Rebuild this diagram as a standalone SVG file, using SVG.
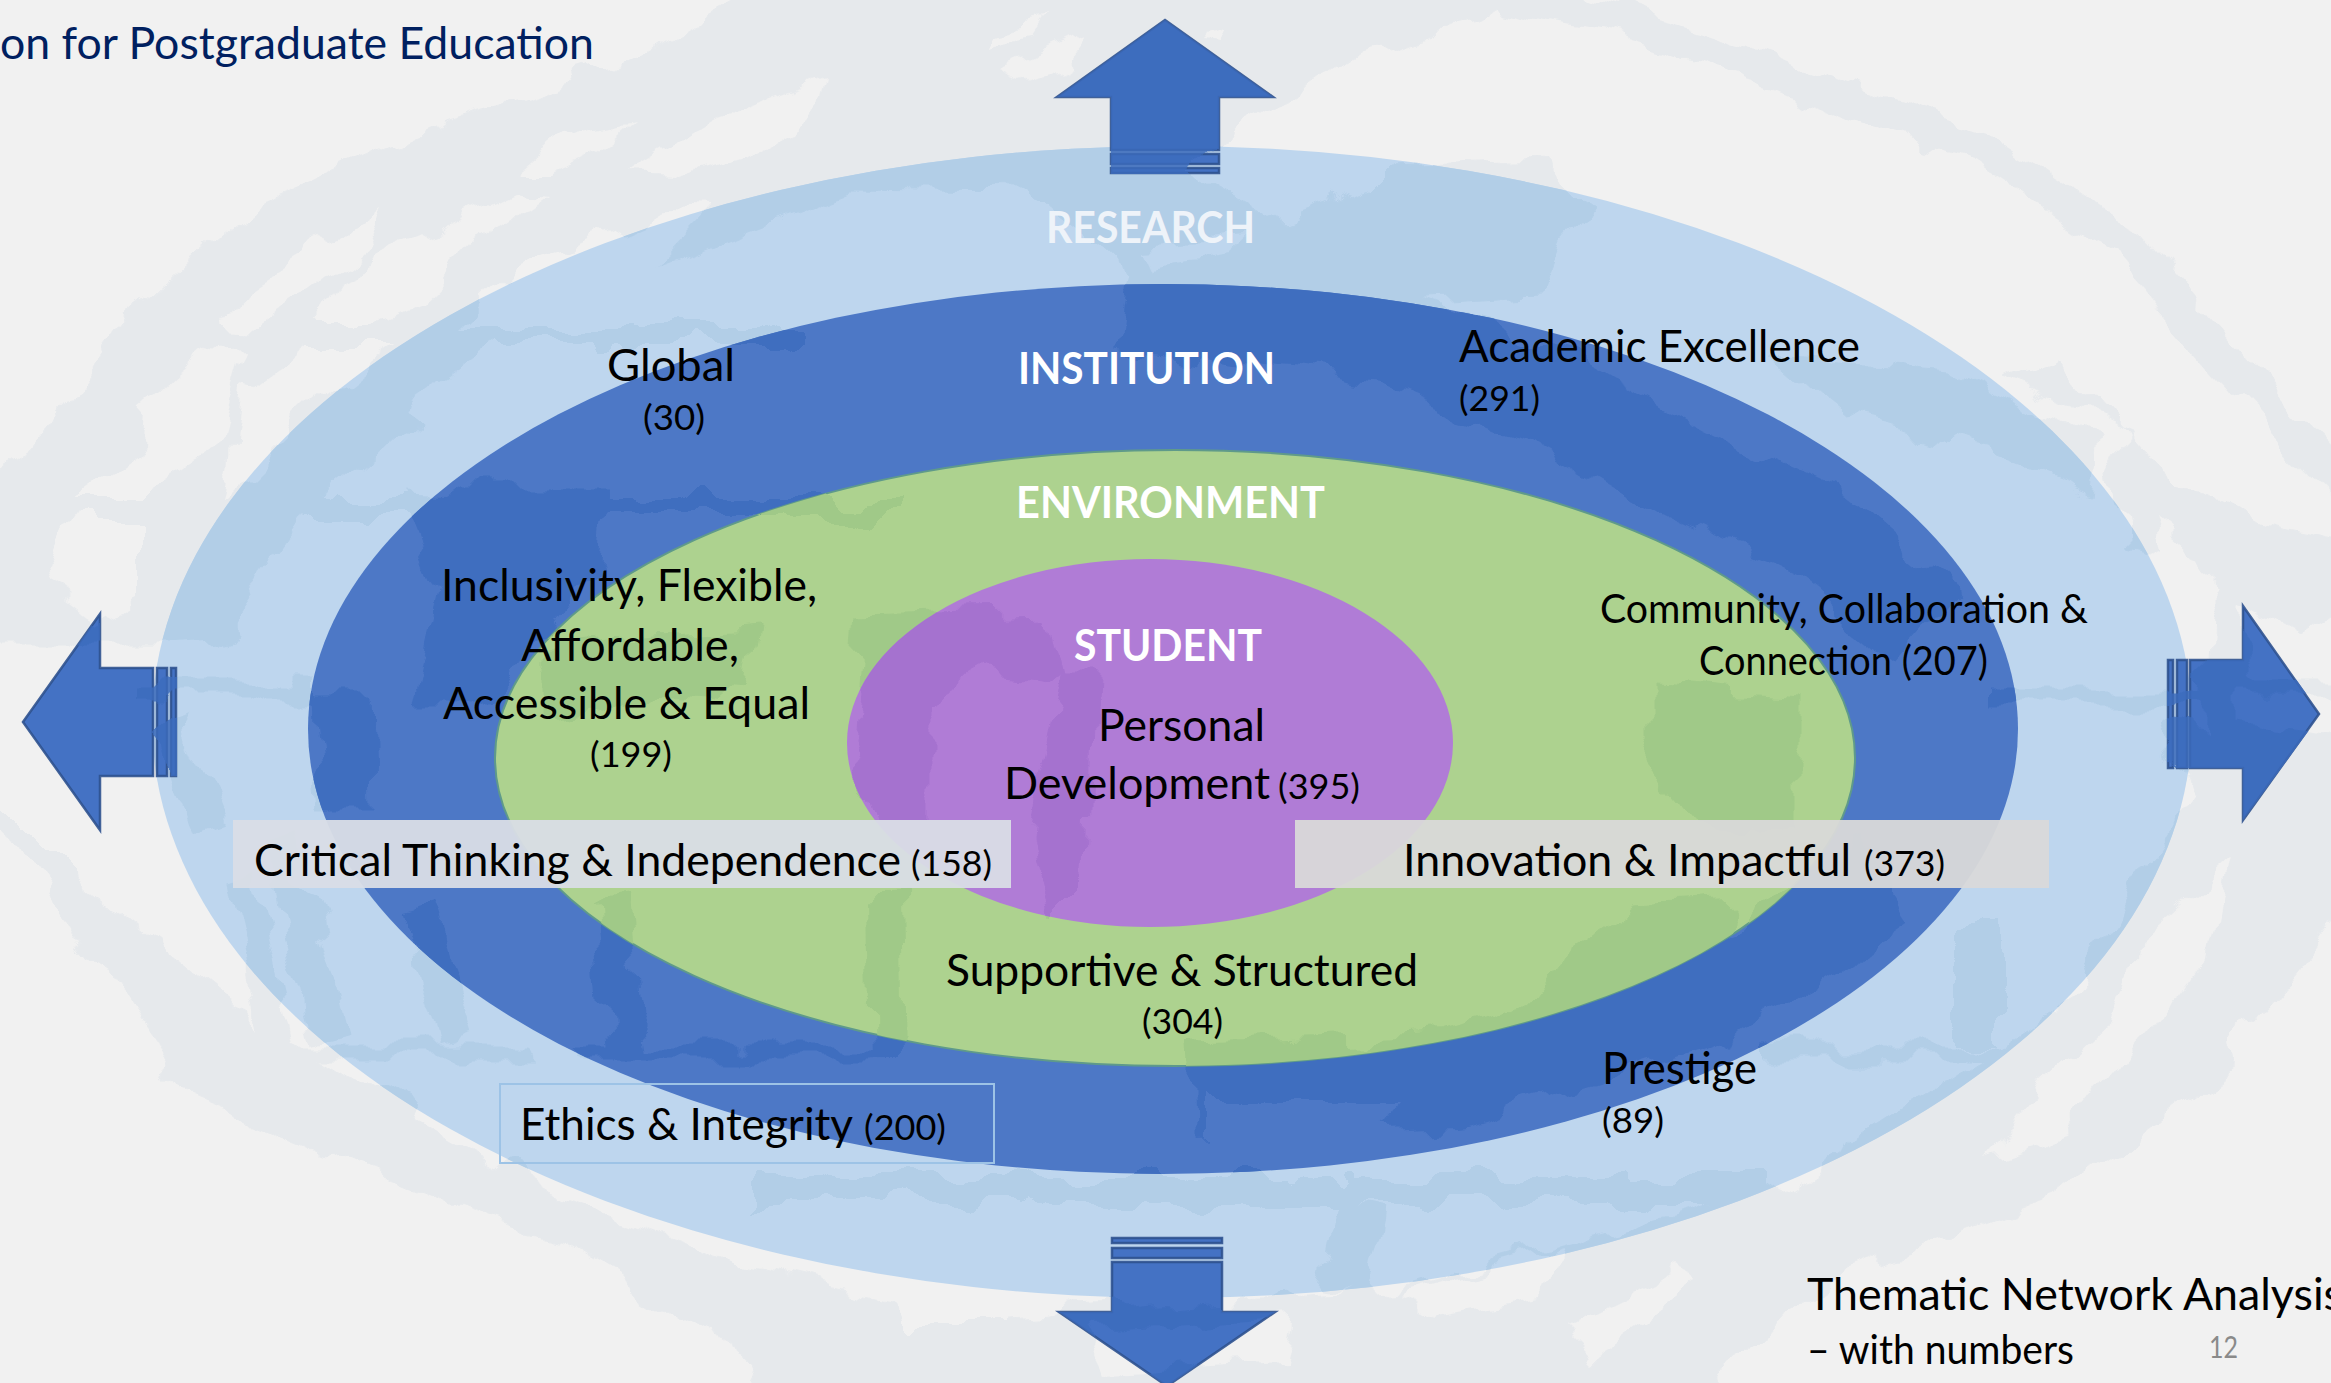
<svg xmlns="http://www.w3.org/2000/svg" width="2331" height="1383" viewBox="0 0 2331 1383">
<style>
text{font-family:"Lato","Carlito","Liberation Sans",sans-serif;fill:#000}
.m{font-size:45px}.s{font-size:35px}.c{font-size:40px}
.h{font-size:43px;font-weight:700;fill:#fff}
.t{font-size:44px;fill:#002060}
.a{fill:#4472c4;stroke:#2f528f;stroke-width:2.5;stroke-opacity:.9}
.d{fill:#fff;stroke:#fff;stroke-linejoin:round}
.b{fill:none;stroke:#fff;stroke-linejoin:round;stroke-linecap:butt}
.l{fill:#000}
</style>
<defs>
<filter id="rough" filterUnits="userSpaceOnUse" x="0" y="0" width="2331" height="1383" color-interpolation-filters="sRGB">
<feTurbulence type="fractalNoise" baseFrequency="0.018" numOctaves="3" seed="7" result="n"/>
<feDisplacementMap in="SourceGraphic" in2="n" scale="46" xChannelSelector="R" yChannelSelector="G"/>
</filter>
<clipPath id="cOuter"><ellipse cx="1172" cy="722" rx="1020" ry="576"/></clipPath>
<clipPath id="cInst"><ellipse cx="1163" cy="729" rx="855" ry="445"/></clipPath>
<clipPath id="cEnv"><ellipse cx="1175" cy="758" rx="680" ry="308"/></clipPath>
<clipPath id="cStu"><ellipse cx="1150" cy="743" rx="303" ry="184"/></clipPath>
<clipPath id="cArrows">
<polygon points="1165,20 1273,97 1219,97 1219,174 1111,174 1111,97 1057,97"/>
<polygon points="23,722 100,614 100,668 177,668 177,776 100,776 100,830"/>
<polygon points="2321,714 2243,606 2243,660 2167,660 2167,768 2243,768 2243,820"/>
<polygon points="1167,1386 1275,1312 1222,1312 1222,1237 1112,1237 1112,1312 1059,1312"/>
</clipPath>
<mask id="wm" maskUnits="userSpaceOnUse" x="0" y="0" width="2331" height="1383">
<rect width="2331" height="1383" fill="#000"/>
<g filter="url(#rough)">
<!-- top-left swirl -->
<polygon class="d" points="790,-30 1555,-30 1480,22 1355,54 1244,129 1215,152 1190,180 1266,223 1370,187 1392,165 1540,160 1592,198 1560,240 1540,292 1400,300 1170,300 1030,192 850,190 640,270 470,370 300,520 215,640 150,640 -30,640 -30,490 30,446 120,321 260,200 448,120 620,70"/>
<path class="b" stroke-width="36" d="M1480,-10 L1620,22 L1763,67 L1880,115 L1985,150 L2060,200 L2133,250 L2200,330 L2244,380 L2300,440 L2360,500"/>
<polygon class="d" points="2360,600 2300,640 2230,600 2200,560 2120,540 2110,470 2130,430 2000,380 2060,360 2150,460 2250,520 2360,540"/>
<polygon class="d" points="2160,720 2360,740 2360,900 2230,1060 2054,1200 1805,1292 1700,1410 770,1410 746,1353 560,1240 448,1200 187,1092 37,874 -30,790 -30,770 80,880 230,1000 420,1120 560,1200 746,1266 970,1318 1400,1290 1800,1180 2060,1010 2190,800"/>
<path class="b" stroke-width="96" d="M1130,300 L1400,338 L1560,400 L1680,470 L1820,535 L1930,630"/>
<path class="b" stroke-width="90" d="M1190,1090 L1460,1080 L1710,1000 L1890,880"/>
<polygon class="d" points="1777,357 1950,370 2096,440 2090,490 1985,450 1850,420"/>
<polygon class="d" points="400,490 610,490 600,560 540,640 490,700 415,700 440,590"/>
<polygon class="d" points="310,700 370,700 372,810 320,810"/>
<path class="b" stroke-width="36" d="M610,900 L625,1050"/>
<path class="b" stroke-width="13" d="M246,1053 L900,1053 M1763,1053 L2022,1053"/>
<path class="b" stroke-width="17" d="M130,694 L320,694 M1990,694 L2360,694"/>
<path class="b" stroke-width="18" d="M70,508 L900,508"/>
<path class="b" stroke-width="14" d="M200,335 L800,335"/>
<path class="b" stroke-width="28" d="M746,1190 L1770,1190"/>
<path class="b" stroke-width="44" d="M1365,1205 L1345,1295"/>
<path class="b" stroke-width="44" d="M1980,920 L1980,1045"/>
<path class="b" stroke-width="36" d="M280,840 L330,1040 M420,910 L460,1040"/>
<path class="b" stroke-width="30" d="M170,720 L215,830 M240,880 L280,1050"/>
<polygon class="d" points="545,640 760,625 750,700 640,690 590,710 545,720"/>
<path class="b" stroke-width="36" d="M885,890 L888,1060"/>
<polygon class="d" points="1650,690 1800,700 1800,830 1700,830 1650,770"/>
<polygon class="d" points="1490,1050 1560,960 1640,905 1730,900 1720,1040"/>
<polygon class="d" points="860,615 1050,610 1065,680 985,670 930,700 930,830 880,830 850,740"/>
<polygon class="d" points="1060,680 1095,680 1090,880 1050,920 1030,830"/>
<polygon class="d" points="2210,580 2240,580 2240,850 2200,850"/>
<polygon class="l" points="522,172 567,134 638,118 597,152 552,172"/>
<polygon class="l" points="623,176 716,120 820,83 813,112 746,156 672,178"/>
<polygon class="l" points="224,324 254,286 328,241 384,208 360,250 300,300 260,326"/>
<polygon class="l" points="321,326 358,263 440,228 507,196 537,201 478,241 418,304 373,326"/>
<polygon class="l" points="71,498 146,446 149,402 216,348 243,346 216,446 142,498"/>
<polygon class="l" points="225,498 239,393 306,344 395,344 321,402"/>
<polygon class="l" points="37,580 75,518 142,518 142,603 97,625"/>
<polygon class="l" points="463,326 522,268 664,208 709,210 619,304 560,326"/>
<polygon class="l" points="675,326 746,250 791,277 716,326"/>
<polygon class="l" points="381,496 418,446 410,402 492,344 657,344 597,402 448,498"/>
<polygon class="l" points="836,232 925,219 895,250 851,254"/>
<polygon class="l" points="1000,70 1060,45 1090,35 1070,60 1020,80"/>
<polygon class="l" points="1210,30 1235,25 1225,40 1205,38"/>
<polygon class="l" points="985,45 1000,30 1050,20 1040,35"/>
<polygon class="l" points="180,640 290,630 270,660 190,660"/>
<polygon class="l" points="1650,300 1730,230 1790,270 1700,330"/>
<polygon class="l" points="2150,520 2230,590 2200,620 2160,560"/>
<polygon class="l" points="1140,240 1260,232 1240,250 1150,262"/>
<polygon class="l" points="2100,1060 2130,950 2230,860 2210,950 2130,1060"/>
<polygon class="l" points="1990,1160 2040,1090 2140,1000 2150,1030 2070,1130"/>
<polygon class="l" points="870,1250 1000,1255 1000,1320 900,1320"/>
<polygon class="l" points="1090,1330 1290,1320 1280,1360 1110,1370"/>
<polygon class="l" points="1560,1330 1680,1270 1700,1280 1590,1360"/>
<polygon class="l" points="1400,1295 1560,1250 1540,1300 1440,1320"/>
<polygon class="l" points="290,880 320,850 345,870 320,900"/>
<polygon class="l" points="530,1040 560,1020 580,1060 545,1090"/>
<polygon class="l" points="1200,1100 1400,1100 1350,1160 1200,1165"/>
<polygon class="l" points="660,1110 880,1090 900,1170 700,1165"/>
</g>
</mask>
</defs>

<rect id="background" width="2331" height="1383" fill="#f1f1f1"/>
<rect width="2331" height="1383" fill="#e6e9ec" mask="url(#wm)"/>

<g id="ring-research">
<ellipse cx="1172" cy="722" rx="1020" ry="576" fill="#bed6ee"/>
<g clip-path="url(#cOuter)"><rect width="2331" height="1383" fill="#b2cee7" mask="url(#wm)"/></g>
</g>
<g id="ring-institution">
<ellipse cx="1163" cy="729" rx="855" ry="445" fill="#4d78c6"/>
<g clip-path="url(#cInst)"><rect width="2331" height="1383" fill="#3f6ebf" mask="url(#wm)"/></g>
</g>
<g id="ring-environment">
<ellipse cx="1175" cy="758" rx="680" ry="308" fill="#add28f" stroke="#5f9a8a" stroke-width="2"/>
<g clip-path="url(#cEnv)"><rect width="2331" height="1383" fill="#a0c988" mask="url(#wm)"/></g>
</g>
<g id="ring-student">
<ellipse cx="1150" cy="743" rx="303" ry="184" fill="#b07cd6"/>
<g clip-path="url(#cStu)"><rect width="2331" height="1383" fill="#a572cf" mask="url(#wm)"/></g>
</g>

<g id="arrows">
<g id="arrow-up"><polygon class="a" points="1165,20 1273,97 1219,97 1219,150 1111,150 1111,97 1057,97"/><rect class="a" x="1111" y="154" width="108" height="10"/><rect class="a" x="1111" y="168" width="108" height="5"/></g>
<g id="arrow-left"><polygon class="a" points="23,722 100,614 100,668 153,668 153,776 100,776 100,830"/><rect class="a" x="157" y="668" width="10" height="108"/><rect class="a" x="171" y="668" width="5" height="108"/></g>
<g id="arrow-right"><polygon class="a" points="2319,714 2243,606 2243,660 2190,660 2190,768 2243,768 2243,820"/><rect class="a" x="2177" y="660" width="10" height="108"/><rect class="a" x="2168" y="660" width="5" height="108"/></g>
<g id="arrow-down"><polygon class="a" points="1167,1386 1275,1312 1222,1312 1222,1262 1112,1262 1112,1312 1059,1312"/><rect class="a" x="1112" y="1248" width="110" height="10"/><rect class="a" x="1112" y="1238" width="110" height="5"/></g>
<g clip-path="url(#cArrows)" opacity=".8"><rect width="2331" height="1383" fill="#3c6cbd" mask="url(#wm)"/></g>
</g>

<g id="box-critical"><rect x="233" y="820" width="778" height="68" fill="#d9dde6" fill-opacity=".95"/>
<text x="254" y="876" class="m" textLength="647" lengthAdjust="spacingAndGlyphs">Critical Thinking &amp; Independence</text><text x="911" y="876" class="s" textLength="81" lengthAdjust="spacingAndGlyphs">(158)</text></g>
<g id="box-innovation"><rect x="1295" y="820" width="754" height="68" fill="#d9d9d9" fill-opacity=".95"/>
<text x="1403" y="876" class="m" textLength="448" lengthAdjust="spacingAndGlyphs">Innovation &amp; Impactful</text><text x="1864" y="876" class="s" textLength="81" lengthAdjust="spacingAndGlyphs">(373)</text></g>
<g id="box-ethics"><rect x="500" y="1084" width="494" height="79" fill="none" stroke="#9dc3e6" stroke-width="2"/>
<text x="520" y="1140" class="m" textLength="333" lengthAdjust="spacingAndGlyphs">Ethics &amp; Integrity</text><text x="864" y="1140" class="s" textLength="82" lengthAdjust="spacingAndGlyphs">(200)</text></g>

<g id="labels">
<text x="0" y="59" class="t" textLength="594" lengthAdjust="spacingAndGlyphs">on for Postgraduate Education</text>
<text x="1046" y="243" class="h" style="fill:#eef3f9" textLength="209" lengthAdjust="spacingAndGlyphs">RESEARCH</text>
<text x="1018" y="384" class="h" textLength="257" lengthAdjust="spacingAndGlyphs">INSTITUTION</text>
<text x="1016" y="518" class="h" textLength="309" lengthAdjust="spacingAndGlyphs">ENVIRONMENT</text>
<text x="1074" y="661" class="h" textLength="188" lengthAdjust="spacingAndGlyphs">STUDENT</text>
<text x="607" y="381" class="m" textLength="128" lengthAdjust="spacingAndGlyphs">Global</text>
<text x="643" y="430" class="s" textLength="62" lengthAdjust="spacingAndGlyphs">(30)</text>
<text x="1459" y="362" class="m" textLength="401" lengthAdjust="spacingAndGlyphs">Academic Excellence</text>
<text x="1459" y="411" class="s" textLength="81" lengthAdjust="spacingAndGlyphs">(291)</text>
<text x="441" y="601" class="m" textLength="376" lengthAdjust="spacingAndGlyphs">Inclusivity, Flexible,</text>
<text x="521" y="661" class="m" textLength="218" lengthAdjust="spacingAndGlyphs">Affordable,</text>
<text x="443" y="719" class="m" textLength="367" lengthAdjust="spacingAndGlyphs">Accessible &amp; Equal</text>
<text x="590" y="767" class="s" textLength="82" lengthAdjust="spacingAndGlyphs">(199)</text>
<text x="1600" y="623" class="c" textLength="488" lengthAdjust="spacingAndGlyphs">Community, Collaboration &amp;</text>
<text x="1699" y="675" class="c" textLength="289" lengthAdjust="spacingAndGlyphs">Connection (207)</text>
<text x="1098" y="741" class="m" textLength="167" lengthAdjust="spacingAndGlyphs">Personal</text>
<text x="1004" y="799" class="m" textLength="266" lengthAdjust="spacingAndGlyphs">Development</text>
<text x="1278" y="799" class="s" textLength="82" lengthAdjust="spacingAndGlyphs">(395)</text>
<text x="946" y="986" class="m" textLength="472" lengthAdjust="spacingAndGlyphs">Supportive &amp; Structured</text>
<text x="1142" y="1034" class="s" textLength="81" lengthAdjust="spacingAndGlyphs">(304)</text>
<text x="1602" y="1084" class="m" textLength="155" lengthAdjust="spacingAndGlyphs">Prestige</text>
<text x="1602" y="1133" class="s" textLength="62" lengthAdjust="spacingAndGlyphs">(89)</text>
<text x="1807" y="1310" class="m" textLength="536" lengthAdjust="spacingAndGlyphs">Thematic Network Analysis</text>
<text x="1807" y="1364" class="c" textLength="267" lengthAdjust="spacingAndGlyphs">– with numbers</text>
<text x="2209" y="1358" style="font-size:30px;fill:#8a8a8a" textLength="29" lengthAdjust="spacingAndGlyphs">12</text>
</g>
</svg>
